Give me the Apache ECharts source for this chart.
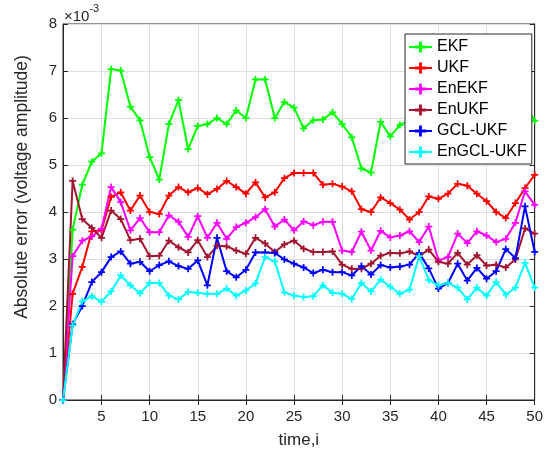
<!DOCTYPE html>
<html>
<head>
<meta charset="utf-8">
<script src="https://cdn.jsdelivr.net/npm/echarts@6/dist/echarts.min.js"></script>
<style>
  html, body { margin: 0; padding: 0; background: #fff; }
  #main { width: 546px; height: 457px; }
</style>
</head>
<body>
<div id="main"></div>
<script>
  // values are in units of 1e-3
  var times = ['1','2','3','4','5','6','7','8','9','10','11','12','13','14','15','16','17','18','19','20',
    '21','22','23','24','25','26','27','28','29','30','31','32','33','34','35','36','37','38','39','40',
    '41','42','43','44','45','46','47','48','49','50'];
  var yTicks = [0, 8, 1];

  var ekf = [0, 3.62, 4.58, 5.07, 5.25, 7.04, 7.01, 6.24, 5.95, 5.17, 4.69, 5.87, 6.38, 5.34, 5.83, 5.87, 6.0, 5.87, 6.16, 6.0,
    6.82, 6.82, 6.0, 6.34, 6.22, 5.78, 5.95, 5.97, 6.12, 5.87, 5.59, 4.93, 4.84, 5.92, 5.61, 5.85, 5.95, 6.05, 5.9, 6.1,
    6.0, 5.85, 6.05, 6.15, 5.95, 6.1, 6.2, 6.45, 6.28, 5.94];
  var ukf = [0, 2.26, 2.83, 3.59, 3.61, 4.32, 4.42, 4.03, 4.35, 4.0, 3.96, 4.35, 4.53, 4.42, 4.51, 4.38, 4.49, 4.66, 4.53, 4.39,
    4.63, 4.31, 4.42, 4.72, 4.83, 4.83, 4.83, 4.58, 4.60, 4.54, 4.44, 4.06, 4.0, 4.31, 4.19, 4.05, 3.84, 4.0, 4.33, 4.28,
    4.39, 4.60, 4.56, 4.39, 4.23, 4.0, 3.87, 4.19, 4.51, 4.79];
  var enekf = [0, 3.06, 3.39, 3.48, 3.64, 4.53, 4.21, 3.61, 3.87, 3.57, 3.57, 3.93, 3.79, 3.47, 3.91, 3.45, 3.77, 3.43, 3.68, 3.77,
    3.89, 4.06, 3.69, 3.84, 3.61, 3.80, 3.72, 3.79, 3.79, 3.18, 3.15, 3.58, 3.18, 3.60, 3.46, 3.50, 3.59, 3.36, 3.69, 2.97,
    3.04, 3.54, 3.34, 3.59, 3.50, 3.36, 3.43, 3.77, 4.44, 4.15];
  var enukf = [0, 4.66, 3.85, 3.66, 3.45, 4.03, 3.85, 3.40, 3.43, 3.06, 3.07, 3.39, 3.25, 3.14, 3.40, 3.04, 3.28, 3.27, 3.18, 3.11,
    3.45, 3.33, 3.15, 3.31, 3.39, 3.22, 3.15, 3.15, 3.16, 2.88, 2.79, 2.79, 2.90, 3.07, 3.13, 3.12, 3.16, 3.06, 3.20, 2.94,
    2.90, 3.13, 2.88, 3.08, 2.86, 2.88, 2.82, 2.99, 3.65, 3.54];
  var gclukf = [0, 1.61, 2.0, 2.51, 2.72, 3.04, 3.16, 2.90, 2.94, 2.74, 2.87, 2.95, 2.85, 2.79, 2.97, 2.44, 3.45, 2.74, 2.61, 2.77,
    3.14, 3.14, 3.13, 2.99, 2.90, 2.82, 2.70, 2.77, 2.72, 2.72, 2.65, 2.85, 2.67, 2.87, 2.82, 2.84, 2.88, 3.13, 2.80, 2.37,
    2.49, 2.90, 2.54, 2.81, 2.58, 2.74, 3.21, 3.02, 4.12, 3.15];
  var engclukf = [0, 1.59, 2.10, 2.21, 2.09, 2.31, 2.65, 2.44, 2.27, 2.49, 2.49, 2.22, 2.14, 2.30, 2.28, 2.26, 2.26, 2.37, 2.22, 2.33,
    2.48, 3.04, 2.95, 2.29, 2.22, 2.19, 2.21, 2.44, 2.28, 2.26, 2.15, 2.49, 2.31, 2.56, 2.41, 2.26, 2.35, 3.06, 2.55, 2.44,
    2.49, 2.39, 2.14, 2.39, 2.22, 2.51, 2.24, 2.39, 2.92, 2.39];

  var names = ['EKF', 'UKF', 'EnEKF', 'EnUKF', 'GCL-UKF', 'EnGCL-UKF'];
  var colors = ['#00ff00', '#ff0000', '#ff00ff', '#a2142f', '#0000ff', '#00ffff'];
  var allData = [ekf, ukf, enekf, enukf, gclukf, engclukf];

  var FONT = 'Liberation Sans, Arial, Helvetica, sans-serif';
  var AXIS = '#262626';
  var plus = 'path://M3,0H5V3H8V5H5V8H3V5H0V3H3Z';
  var every5 = function (idx) { return (idx + 1) % 5 === 0; };

  var myChart = echarts.init(document.getElementById('main'));

  var series = names.map(function (n, i) {
    return {
      name: n,
      type: 'line',
      data: allData[i],
      symbol: plus,
      symbolSize: 7,
      showAllSymbol: true,
      animation: false,
      lineStyle: { width: 2, color: colors[i] },
      itemStyle: { color: colors[i] }
    };
  });

  var option = {
    backgroundColor: '#fff',
    animation: false,
    textStyle: { fontFamily: FONT },
    grid: {
      left: 63, right: 8, top: 24, bottom: 57,
      show: true, borderColor: AXIS, borderWidth: 1, backgroundColor: '#fff'
    },
    legend: {
      orient: 'vertical',
      left: 405, top: 34,
      padding: [5, 5, 4, 3],
      itemWidth: 23, itemHeight: 14, itemGap: 5,
      backgroundColor: '#fff',
      borderColor: AXIS, borderWidth: 1,
      textStyle: { fontSize: 16, color: '#000', fontFamily: FONT, lineHeight: 16 },
      data: names
    },
    xAxis: [{
      type: 'category',
      data: times,
      boundaryGap: false,
      axisLine: { lineStyle: { color: AXIS, width: 1 } },
      axisTick: { inside: true, length: 5, interval: every5, lineStyle: { color: AXIS } },
      axisLabel: { interval: every5, margin: 9, fontSize: 15, color: AXIS, fontFamily: FONT },
      splitLine: { show: true, interval: every5, lineStyle: { color: '#dfdfdf', width: 1 } },
      name: 'time,i',
      nameLocation: 'middle',
      nameGap: 32,
      nameTextStyle: { fontSize: 17, color: AXIS, fontFamily: FONT }
    }, {
      type: 'category',
      data: times,
      position: 'top',
      boundaryGap: false,
      axisLine: { lineStyle: { color: AXIS, width: 1 } },
      axisTick: { inside: true, length: 5, interval: every5, lineStyle: { color: AXIS } },
      axisLabel: { show: false },
      splitLine: { show: false }
    }],
    yAxis: [{
      type: 'value',
      min: yTicks[0], max: yTicks[1], interval: yTicks[2],
      axisLine: { show: true, lineStyle: { color: AXIS, width: 1 } },
      axisTick: { show: true, inside: true, length: 5, lineStyle: { color: AXIS } },
      axisLabel: { margin: 6, fontSize: 15, color: AXIS, fontFamily: FONT },
      splitLine: { show: true, lineStyle: { color: '#dfdfdf', width: 1 } }
    }, {
      type: 'value',
      position: 'right',
      min: yTicks[0], max: yTicks[1], interval: yTicks[2],
      axisLine: { show: true, lineStyle: { color: AXIS, width: 1 } },
      axisTick: { show: true, inside: true, length: 5, lineStyle: { color: AXIS } },
      axisLabel: { show: false },
      splitLine: { show: false }
    }],
    graphic: [{
      type: 'text',
      left: 64, top: 3,
      style: {
        text: '{a|×10}{b|-3}',
        rich: {
          a: { fontSize: 15, fontFamily: FONT, fill: AXIS, padding: [6, 0, 0, 0] },
          b: { fontSize: 11, fontFamily: FONT, fill: AXIS, verticalAlign: 'top' }
        }
      }
    }, {
      type: 'text',
      x: 22, y: 187,
      rotation: Math.PI / 2,
      style: {
        text: 'Absolute error (voltage amplitude)',
        fontSize: 17.5, fontFamily: FONT, fill: AXIS,
        align: 'center', verticalAlign: 'middle'
      }
    }],
    series: series
  };

  myChart.setOption(option);

  window.addEventListener('resize', function () {
    myChart.resize();
  });
</script>
</body>
</html>
